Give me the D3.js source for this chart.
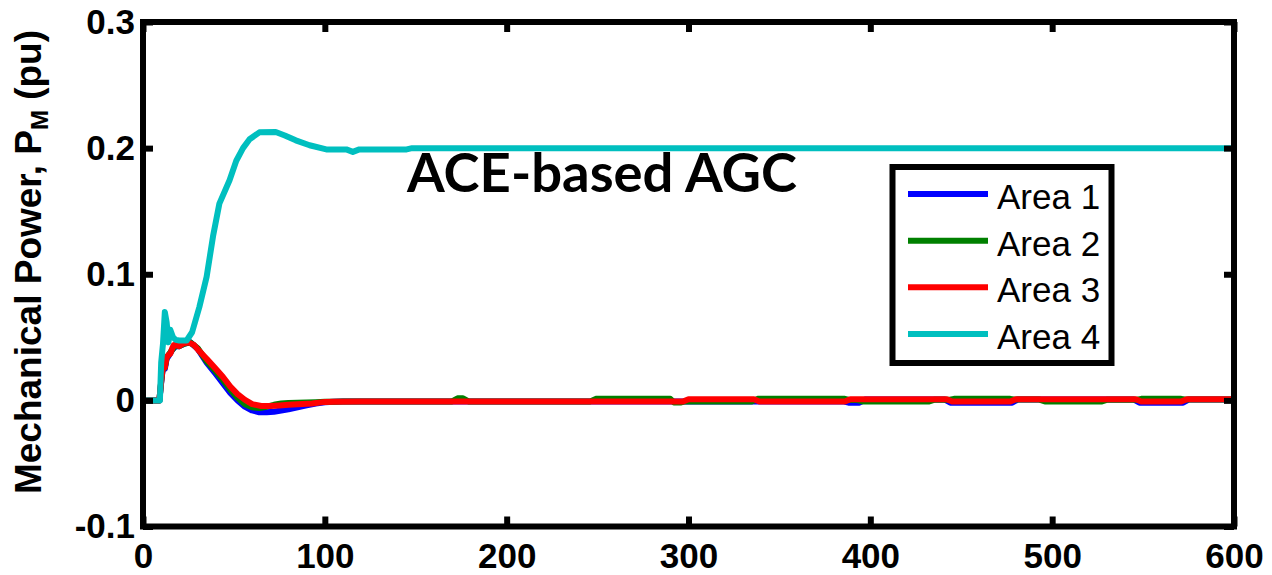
<!DOCTYPE html>
<html>
<head>
<meta charset="utf-8">
<script src="https://cdn.jsdelivr.net/npm/d3@7"></script>
<style>
  html, body { margin: 0; padding: 0; background: #fff; }
  svg { display: block; }
</style>
</head>
<body>
<svg id="chart" width="1272" height="575"></svg>
<script>
// Mechanical power response of four areas under ACE-based AGC

const xTicks = [0, 100, 200, 300, 400, 500, 600];
const yTicks = [-0.1, 0, 0.1, 0.2, 0.3];
const yTickLabels = ["-0.1", "0", "0.1", "0.2", "0.3"];
const seriesNames = ["Area 1", "Area 2", "Area 3", "Area 4"];
const seriesColors = ["#0000ff", "#008000", "#ff0000", "#00bfbf"];

// Area 1
const time1 = [0, 9, 10, 11, 12, 13, 14, 16, 18, 20, 23, 26, 30, 35, 40, 44, 48, 52, 56, 60, 64, 68, 72, 76, 80, 85, 90, 95, 100, 105, 110, 120,
  300, 385, 388, 394, 397, 441, 444, 478, 481, 545, 548, 572, 575, 600];
const area1 = [0, 0, 0.014, 0.027, 0.025, 0.033, 0.035, 0.040, 0.043, 0.043, 0.045, 0.046, 0.041, 0.030, 0.021, 0.0135, 0.006, 0.000, -0.005, -0.008, -0.0095, -0.0095, -0.009, -0.008, -0.007, -0.0055, -0.004, -0.0025, -0.0015, -0.001, -0.0009, -0.0008,
  -0.0008, -0.0008, -0.0018, -0.0018, 0.0006, 0.0006, -0.0018, -0.0018, 0.0006, 0.0006, -0.0018, -0.0018, 0.0006, 0.0006];

// Area 2
const time2 = [0, 9, 10, 11, 12, 13, 14, 16, 18, 20, 23, 26, 30, 35, 40, 44, 48, 52, 56, 60, 64, 68, 72, 76, 80, 85, 90, 95, 100, 105, 110, 120,
  170, 173, 176, 179, 246, 249, 290, 292, 296, 298, 335, 338, 386, 389, 393, 396, 432, 435, 443, 446, 477, 480, 493, 496, 527, 530, 546, 549, 571, 574, 600];
const area2 = [0, 0, 0.015, 0.028, 0.026, 0.034, 0.036, 0.040, 0.044, 0.043, 0.045, 0.046, 0.0415, 0.031, 0.023, 0.016, 0.0085, 0.002, -0.003, -0.0055, -0.006, -0.005, -0.0035, -0.0025, -0.002, -0.0018, -0.0016, -0.0014, -0.0011, -0.001, -0.0009, -0.0008,
  -0.0008, 0.0016, 0.0016, -0.0008, -0.0008, 0.0012, 0.0012, -0.0016, -0.0016, -0.0008, -0.0008, 0.0012, 0.0012, 0.0002, 0.0002, -0.0009, -0.0009, 0.0004, 0.0004, 0.0012, 0.0012, 0.0006, 0.0006, -0.0009, -0.0009, 0.0004, 0.0004, 0.0012, 0.0012, 0.0006, 0.0006];

// Area 3
const time3 = [0, 9, 10, 11, 12, 13, 14, 15, 16, 17, 18, 20, 22, 25, 28, 31, 35, 40, 44, 48, 52, 56, 60, 65, 70, 75, 80, 85, 93, 100, 105, 120,
  297, 300, 336, 339, 386, 389, 442, 445, 477, 480, 546, 549, 571, 574, 600];
const area3 = [0, 0, 0.015, 0.028, 0.026, 0.034, 0.036, 0.037, 0.041, 0.044, 0.044, 0.043, 0.045, 0.046, 0.044, 0.039, 0.033, 0.025, 0.0185, 0.011, 0.005, 0.0005, -0.003, -0.0045, -0.0045, -0.004, -0.0035, -0.003, -0.0025, -0.0012, -0.001, -0.0009,
  -0.0009, 0.0009, 0.0009, -0.0009, -0.0009, 0.0009, 0.0009, -0.0009, -0.0009, 0.0009, 0.0009, -0.0009, -0.0009, 0.0009, 0.0009];

// Area 4
const time4 = [0, 9.3, 10, 11, 12, 13, 14, 15, 16.5, 18, 20, 24, 27, 31, 35, 38.5, 42, 47.6, 51.3, 55, 58.6, 64, 73, 78, 84, 91.6, 100.8, 111.8, 115.4, 119, 145, 148, 600];
const area4 = [0, 0, 0.03, 0.045, 0.070, 0.062, 0.046, 0.056, 0.050, 0.048, 0.0475, 0.0475, 0.054, 0.074, 0.098, 0.130, 0.156, 0.1745, 0.190, 0.200, 0.207, 0.2125, 0.2128, 0.210, 0.2062, 0.2023, 0.199, 0.199, 0.197, 0.199, 0.199, 0.2, 0.2];

const seriesTimes = [time1, time2, time3, time4];
const seriesValues = [area1, area2, area3, area4];

const svg = d3.select("#chart");
const x = d3.scaleLinear().domain([0, 600]).range([143, 1234]);
const y = d3.scaleLinear().domain([-0.1, 0.3]).range([526.5, 22]);

const axisWidth = 6;
const tickLen = 10;

// data lines
const line = d3.line().x(d => x(d[0])).y(d => y(d[1]));
seriesValues.forEach((vals, i) => {
  const pts = seriesTimes[i].map((t, k) => [t, vals[k]]);
  svg.append("path")
    .datum(pts)
    .attr("d", line)
    .attr("fill", "none")
    .attr("stroke", seriesColors[i])
    .attr("stroke-width", 6)
    .attr("stroke-linejoin", "round")
    .attr("stroke-linecap", "butt");
});

// axes (box with mirrored inward ticks)
const axisFont = "'Liberation Sans', Arial, sans-serif";
const bottomAxis = d3.axisBottom(x).tickValues(xTicks).tickSize(-tickLen).tickSizeOuter(0).tickFormat(d3.format("d")).tickPadding(17);
const topAxis = d3.axisTop(x).tickValues(xTicks).tickSize(-tickLen).tickSizeOuter(0).tickFormat("");
const leftAxis = d3.axisLeft(y).tickValues(yTicks).tickSize(-tickLen).tickSizeOuter(0).tickFormat((d, i) => yTickLabels[i]).tickPadding(8);
const rightAxis = d3.axisRight(y).tickValues(yTicks).tickSize(-tickLen).tickSizeOuter(0).tickFormat("");

function styleAxis(g) {
  g.select(".domain").remove();
  g.selectAll(".tick line").attr("stroke", "#000").attr("stroke-width", axisWidth);
  g.selectAll(".tick text")
    .attr("fill", "#000")
    .style("font-family", axisFont)
    .style("font-weight", "bold")
    .style("font-size", "35px");
}

svg.append("g").attr("transform", `translate(0,${y(-0.1)})`).call(bottomAxis).call(styleAxis);
svg.append("g").attr("transform", `translate(0,${y(0.3)})`).call(topAxis).call(styleAxis);
svg.append("g").attr("transform", `translate(${x(0)},0)`).call(leftAxis).call(styleAxis);
svg.append("g").attr("transform", `translate(${x(600)},0)`).call(rightAxis).call(styleAxis);

// frame
svg.append("rect")
  .attr("x", x(0)).attr("y", y(0.3))
  .attr("width", x(600) - x(0)).attr("height", y(-0.1) - y(0.3))
  .attr("fill", "none").attr("stroke", "#000").attr("stroke-width", axisWidth)
  .attr("stroke-linejoin", "miter");

// y-axis title
const yTitle = svg.append("text")
  .attr("transform", "translate(41,262) rotate(-90)")
  .attr("text-anchor", "middle")
  .style("font-family", axisFont)
  .style("font-weight", "bold")
  .style("font-size", "37px")
  .attr("fill", "#000");
yTitle.append("tspan").text("Mechanical Power, P");
yTitle.append("tspan").attr("dy", 7).style("font-size", "24px").text("M");
yTitle.append("tspan").attr("dy", -7).text(" (pu)");

// chart annotation
svg.append("text")
  .attr("x", 407).attr("y", 192)
  .attr("textLength", 390)
  .attr("lengthAdjust", "spacingAndGlyphs")
  .style("font-family", "Lato, 'Open Sans', sans-serif")
  .style("font-weight", "bold")
  .style("font-size", "53px")
  .attr("fill", "#000")
  .text("ACE-based AGC");

// legend
const legend = svg.append("g");
legend.append("rect")
  .attr("x", 892.5).attr("y", 167)
  .attr("width", 219).attr("height", 196)
  .attr("fill", "#fff").attr("stroke", "#000").attr("stroke-width", 6);
const legendY = d3.scalePoint().domain(seriesNames).range([194, 334]);
seriesNames.forEach((name, i) => {
  legend.append("line")
    .attr("x1", 908).attr("x2", 988)
    .attr("y1", legendY(name)).attr("y2", legendY(name))
    .attr("stroke", seriesColors[i]).attr("stroke-width", 6);
  legend.append("text")
    .attr("x", 997).attr("y", legendY(name) + 15)
    .style("font-family", axisFont)
    .style("font-size", "35px")
    .attr("fill", "#000")
    .text(name);
});
</script>
</body>
</html>
